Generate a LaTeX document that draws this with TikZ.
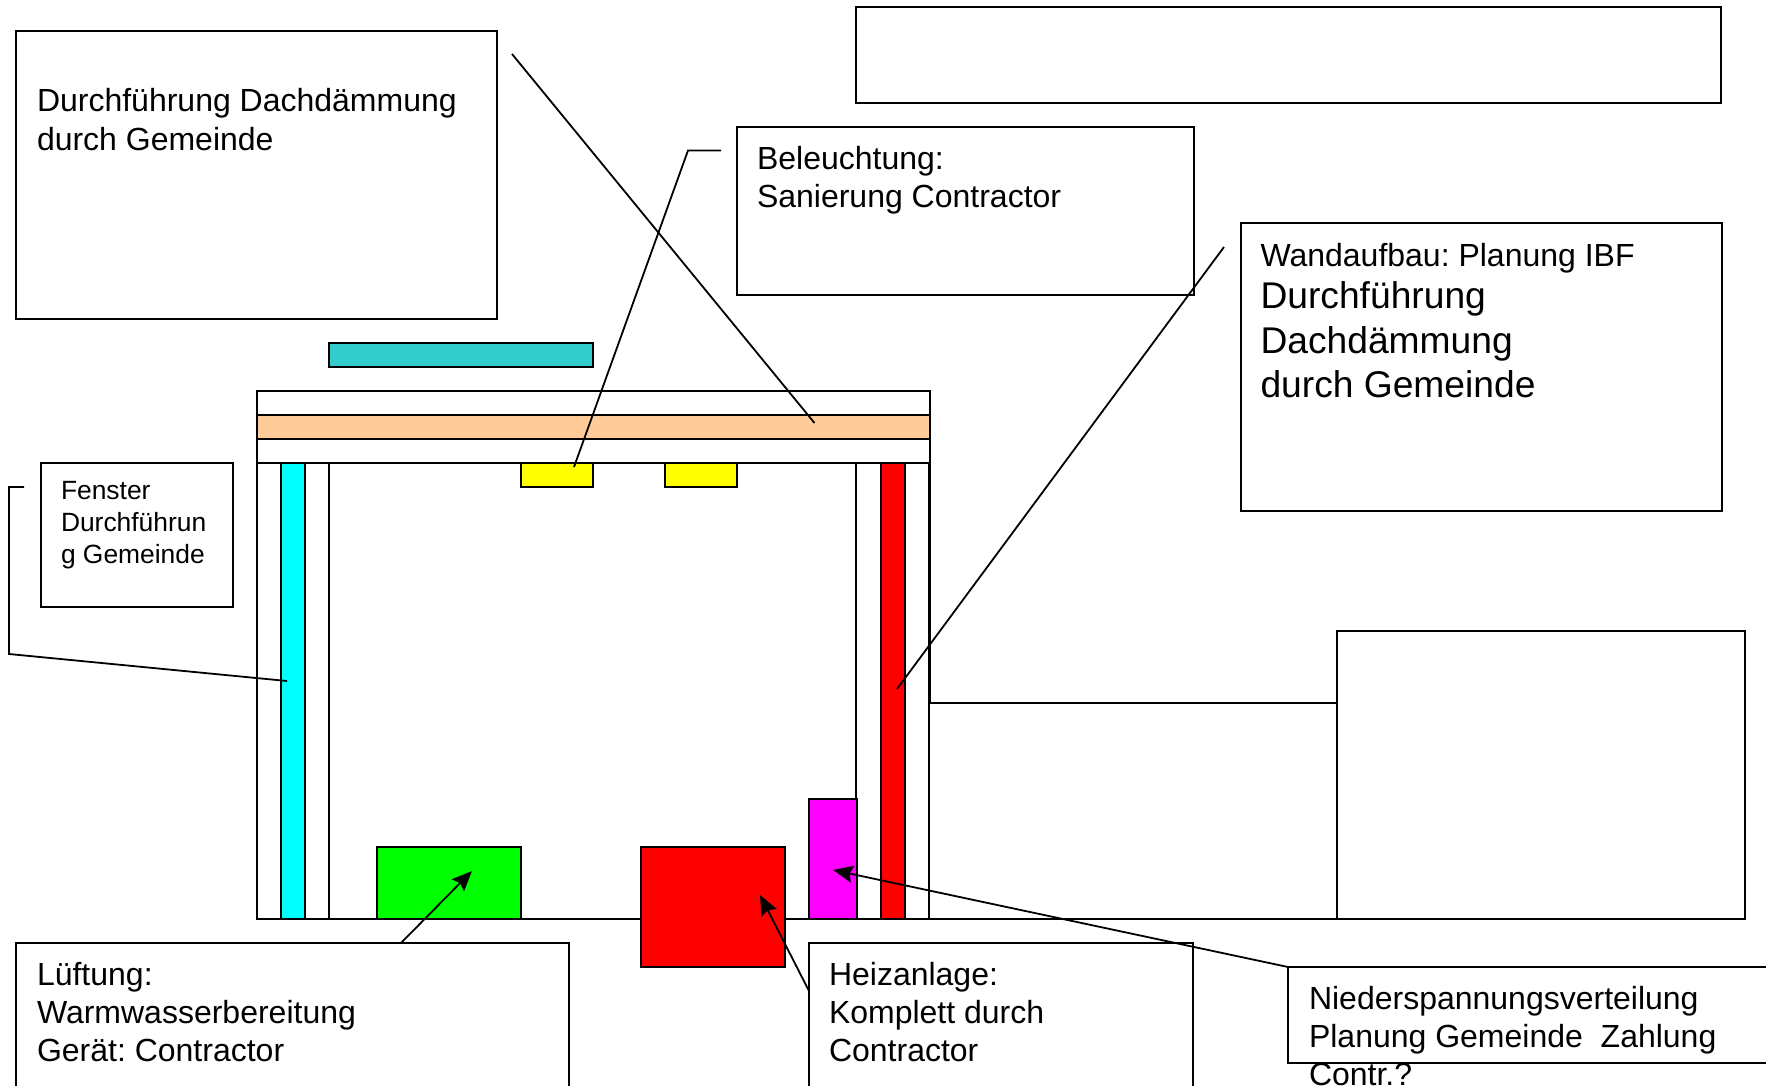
\documentclass[tikz,border=0pt]{standalone}
\usepackage{fontspec}
\setmainfont{Liberation Sans}
\usetikzlibrary{arrows.meta}
\definecolor{cTeal}{RGB}{51,204,204}
\definecolor{cOrange}{RGB}{255,204,153}
\definecolor{cCyan}{RGB}{0,255,255}
\definecolor{cRed}{RGB}{255,0,0}
\definecolor{cGreen}{RGB}{0,255,0}
\definecolor{cYellow}{RGB}{255,255,0}
\definecolor{cMagenta}{RGB}{255,0,255}
\tikzset{
  x=1pt,y=-1pt,
  part/.style={draw=black,line width=2pt,rectangle,inner sep=0pt,outer sep=0pt,anchor=north west},
  box/.style={part,fill=white},
  leader/.style={draw=black,line width=1.8pt,line join=miter},
  pointer/.style={leader,-{Stealth[length=20pt,width=17pt,inset=3pt]}},
  txt/.style={anchor=north west,align=left,inner sep=0pt,outer sep=0pt,font=\fontsize{32}{39}\selectfont},
  txtb/.style={txt,font=\fontsize{32}{38}\selectfont},
  txts/.style={txt,font=\fontsize{26.4}{32}\selectfont},
}
\frenchspacing
\begin{document}
\begin{tikzpicture}
\useasboundingbox (0,0) rectangle (1766,1086);
\clip (0,0) rectangle (1766,1086);
\fill[white] (0,0) rectangle (1766,1086);
% building
\node[box,minimum width=673pt,minimum height=72pt] (roof) at (256.5,391) {};
\node[part,fill=cOrange,minimum width=673pt,minimum height=24pt] (insul) at (256.5,415) {};
\node[box,minimum width=673pt,minimum height=456pt] (hall) at (256.5,463) {};
\node[box,minimum width=72pt,minimum height=456pt] (wallL) at (256.5,463) {};
\node[part,fill=cCyan,minimum width=24pt,minimum height=456pt] (win) at (280.5,463) {};
\node[box,minimum width=73pt,minimum height=456pt] (wallR) at (856,463) {};
\node[part,fill=cRed,minimum width=24pt,minimum height=456pt] (redwall) at (881,463) {};
\node[box,minimum width=408pt,minimum height=216pt] (annex) at (929,703) {};
\node[box,minimum width=408pt,minimum height=288pt] (annexB) at (1337,631) {};
\node[part,fill=cTeal,minimum width=264pt,minimum height=24pt] (teal) at (328.5,343) {};
\node[part,fill=cYellow,minimum width=72pt,minimum height=24pt] (lamp1) at (520.5,463) {};
\node[part,fill=cYellow,minimum width=72pt,minimum height=24pt] (lamp2) at (664.5,463) {};
\node[part,fill=cGreen,minimum width=144pt,minimum height=72pt] (vent) at (376.5,847) {};
\node[part,fill=cRed,minimum width=144pt,minimum height=120pt] (heat) at (640.5,847) {};
\node[part,fill=cMagenta,minimum width=48pt,minimum height=120pt] (lv) at (808.5,799) {};
% annotation boxes
\node[box,minimum width=481pt,minimum height=288pt] (b1) at (16,31) {};
\node[box,minimum width=865pt,minimum height=96pt] (b2) at (856,7) {};
\node[box,minimum width=457pt,minimum height=168pt] (b3) at (736.5,127) {};
\node[box,minimum width=481pt,minimum height=288pt] (b4) at (1240.5,223) {};
\node[box,minimum width=192.5pt,minimum height=144pt] (b5) at (40.5,463) {};
\node[box,minimum width=552.5pt,minimum height=160pt] (b6) at (16,943) {};
\node[box,minimum width=384.5pt,minimum height=160pt] (b7) at (808.5,943) {};
\node[box,minimum width=500pt,minimum height=96pt] (b8) at (1288,967) {};
% free ends
\coordinate (a1) at (512,54);
\coordinate (a2) at (814.5,423);
\coordinate (c1) at (721,150.5);
\coordinate (c2) at (688,150.5);
\coordinate (c3) at (574,467);
\coordinate (d1) at (1224,247);
\coordinate (d2) at (897,689);
\coordinate (e1) at (24,487);
\coordinate (e2) at (9,487);
\coordinate (e3) at (9,654);
\coordinate (e4) at (287,681);
\coordinate (f1) at (401,943);
\coordinate (f2) at (472,871);
\coordinate (g1) at (808.5,990);
\coordinate (g2) at (760,895);
\coordinate (h1) at (1288,967);
\coordinate (h2) at (833,870);
\draw[leader] (a1) -- (a2);
\draw[leader] (c1) -- (c2) -- (c3);
\draw[leader] (d1) -- (d2);
\draw[leader] (e1) -- (e2) -- (e3) -- (e4);
\draw[pointer] (f1) -- (f2);
\draw[pointer] (g1) -- (g2);
\draw[pointer] (h1) -- (h2);
% texts
\node[txt] (t1) at (37,88) {Durchführung Dachdämmung\\durch Gemeinde};
\node[txtb] (t3) at (757,146) {Beleuchtung:\\Sanierung Contractor};
\node[txtb] (t4) at (1260.5,243) {Wandaufbau: Planung IBF};
\node[txt,font=\fontsize{37.2}{44.5}\selectfont] (t4b) at (1260.5,282) {Durchführung\\Dachdämmung\\durch Gemeinde};
\node[txts] (t5) at (61,481) {Fenster\\Durchführun\\g Gemeinde};
\node[txtb] (t6) at (37,962) {Lüftung:\\Warmwasserbereitung\\Gerät: Contractor};
\node[txtb] (t7) at (829,962) {Heizanlage:\\Komplett durch\\Contractor};
\node[txtb] (t8) at (1309,986) {Niederspannungsverteilung\\Planung Gemeinde\ \ Zahlung\\Contr.?};
\end{tikzpicture}
\end{document}
